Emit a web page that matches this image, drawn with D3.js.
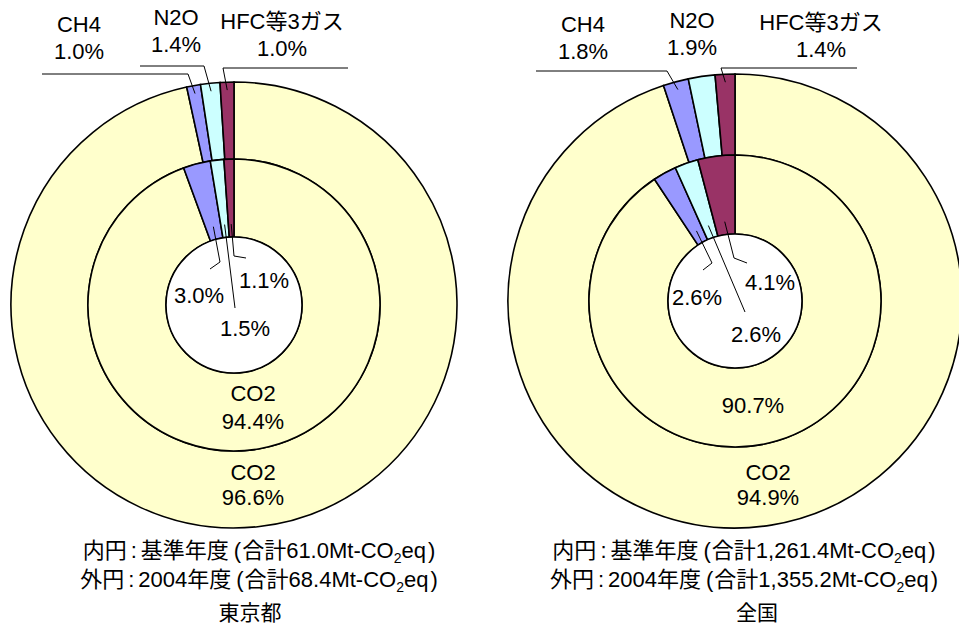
<!DOCTYPE html>
<html>
<head>
<meta charset="utf-8">
<script src="https://cdn.jsdelivr.net/npm/d3@7"></script>
<style>
  body { margin: 0; background: #fff; }
  text { font-family: "Liberation Sans", Arial, "Noto Sans CJK JP", sans-serif; fill: #000; }
</style>
</head>
<body>
<svg id="chart" width="959" height="630"></svg>
<script>
// Greenhouse gas emission shares (%), drawn clockwise from 12 o'clock
const gases = ["CO2", "CH4", "N2O", "HFC等3ガス"];
const gasColors = ["#FFFFCC", "#9999FF", "#CCFFFF", "#993366"];

const tokyoBase = [94.4, 3.0, 1.5, 1.1];   // inner ring: base year
const tokyo2004 = [96.6, 1.0, 1.4, 1.0];   // outer ring: FY2004
const japanBase = [90.7, 2.6, 2.6, 4.1];
const japan2004 = [94.9, 1.8, 1.9, 1.4];

const regionNames = ["東京都", "全国"];
const baseTotals = ["61.0", "1,261.4"];
const fy2004Totals = ["68.4", "1,355.2"];

const svg = d3.select("#chart");
const fmt = v => d3.format(".1f")(v) + "%";
const LABEL_SIZE = 22;

const pie = d3.pie().sort(null).value(d => d);
const polar = (a, r) => [Math.sin(a) * r, -Math.cos(a) * r];
const mid = d => (d.startAngle + d.endAngle) / 2;

// Per-panel layout
const panels = [
  {
    name: regionNames[0], inner: tokyoBase, outer: tokyo2004,
    base: baseTotals[0], fy: fy2004Totals[0],
    cx: 234, cy: 305, rHole: 68, rMid: 146, rOut: 223,
    // outer-ring minor-gas labels and their elbow leaders
    outerLabels: {
      1: { x: 79, y: 32, tail: 42, ly: 74, ex: 188 },
      2: { x: 176, y: 25, tail: 140, ly: 66, ex: 204 },
      3: { x: 282, y: 29, tail: 348, ly: 68, ex: 223 }
    },
    // inner-ring minor-gas labels inside the hole
    innerLabels: {
      1: { x: 199, y: 303, elbow: [220, 262], end: [210, 269] },
      2: { x: 245, y: 336, elbow: null, end: [235, 308] },
      3: { x: 264, y: 288, elbow: [234, 256], end: [246, 258] }
    },
    midLabel: { x: 253, y: 401, showName: true },
    outLabel: { x: 253, y: 480 },
    footX: 259, titleX: 250
  },
  {
    name: regionNames[1], inner: japanBase, outer: japan2004,
    base: baseTotals[1], fy: fy2004Totals[1],
    cx: 735, cy: 301, rHole: 67, rMid: 146, rOut: 227,
    outerLabels: {
      1: { x: 583, y: 32, tail: 536, ly: 71, ex: 667 },
      2: { x: 692, y: 28, tail: null },
      3: { x: 821, y: 30, tail: 857, ly: 68, ex: 721 }
    },
    innerLabels: {
      1: { x: 697, y: 305, elbow: [712, 263], end: [703, 270] },
      2: { x: 756, y: 342, elbow: null, end: [745, 312] },
      3: { x: 770, y: 290, elbow: [734, 258], end: [747, 263] }
    },
    midLabel: { x: 753, y: 413, showName: false },
    outLabel: { x: 768, y: 480 },
    footX: 744, titleX: 757
  }
];

const line = d3.line();

panels.forEach(p => {
  const g = svg.append("g").attr("transform", `translate(${p.cx},${p.cy})`);
  const outerArc = d3.arc().innerRadius(p.rMid).outerRadius(p.rOut);
  const innerArc = d3.arc().innerRadius(p.rHole).outerRadius(p.rMid);
  const outerPie = pie(p.outer);
  const innerPie = pie(p.inner);

  g.selectAll("path.outer").data(outerPie).join("path")
    .attr("class", "outer")
    .attr("d", outerArc)
    .attr("fill", (d, i) => gasColors[i])
    .attr("stroke", "#000").attr("stroke-width", 1.6);

  g.selectAll("path.inner").data(innerPie).join("path")
    .attr("class", "inner")
    .attr("d", innerArc)
    .attr("fill", (d, i) => gasColors[i])
    .attr("stroke", "#000").attr("stroke-width", 1.6);

  g.append("circle").attr("r", p.rHole)
    .attr("fill", "#fff").attr("stroke", "#000").attr("stroke-width", 1.6);

  // Outer-ring labels for minor gases
  outerPie.forEach((d, i) => {
    const L = p.outerLabels[i];
    if (!L) return;
    const t = svg.append("text").attr("text-anchor", "middle").attr("font-size", LABEL_SIZE);
    t.append("tspan").attr("x", L.x).attr("y", L.y).text(gases[i]);
    t.append("tspan").attr("x", L.x).attr("y", L.y + 27).text(fmt(d.data));
    if (L.tail !== null) {
      const [sx, sy] = polar(mid(d), p.rOut - 8);
      svg.append("path")
        .attr("d", line([[L.tail, L.ly], [L.ex, L.ly], [p.cx + sx, p.cy + sy]]))
        .attr("fill", "none").attr("stroke", "#000").attr("stroke-width", 1);
    }
  });

  // Inner-ring labels for minor gases
  innerPie.forEach((d, i) => {
    const L = p.innerLabels[i];
    if (!L) return;
    const [sx, sy] = polar(mid(d), p.rHole + 13);
    const pts = [[p.cx + sx, p.cy + sy]];
    if (L.elbow) pts.push(L.elbow);
    pts.push(L.end);
    svg.append("path").attr("d", line(pts))
      .attr("fill", "none").attr("stroke", "#000").attr("stroke-width", 1);
    svg.append("text").attr("text-anchor", "middle").attr("font-size", LABEL_SIZE)
      .attr("x", L.x).attr("y", L.y).text(fmt(d.data));
  });

  // CO2 labels
  const m = p.midLabel;
  const mt = svg.append("text").attr("text-anchor", "middle").attr("font-size", LABEL_SIZE);
  if (m.showName) {
    mt.append("tspan").attr("x", m.x).attr("y", m.y).text(gases[0]);
    mt.append("tspan").attr("x", m.x).attr("y", m.y + 28).text(fmt(innerPie[0].data));
  } else {
    mt.append("tspan").attr("x", m.x).attr("y", m.y).text(fmt(innerPie[0].data));
  }
  const o = p.outLabel;
  const ot = svg.append("text").attr("text-anchor", "middle").attr("font-size", LABEL_SIZE);
  ot.append("tspan").attr("x", o.x).attr("y", o.y).text(gases[0]);
  ot.append("tspan").attr("x", o.x).attr("y", o.y + 25).text(fmt(outerPie[0].data));

  // Footnotes: inner / outer ring totals
  const foot = (y, ring, period, total) => {
    const t = svg.append("text").attr("text-anchor", "middle").attr("font-size", 22)
      .attr("x", p.footX).attr("y", y);
    t.append("tspan").text(ring);
    t.append("tspan").attr("dx", 4).text(":");
    t.append("tspan").attr("dx", 4).text(period);
    t.append("tspan").attr("dx", 5).text("(");
    t.append("tspan").attr("dx", 1).text("合計" + total + "Mt-CO");
    t.append("tspan").attr("font-size", 14).attr("dy", 5).text("2");
    t.append("tspan").attr("dy", -5).text("eq");
    t.append("tspan").attr("dx", 2).text(")");
  };
  foot(558, "内円", "基準年度", p.base);
  foot(587, "外円", "2004年度", p.fy);
  svg.append("text").attr("text-anchor", "middle").attr("font-size", 21)
    .attr("x", p.titleX).attr("y", 620).text(p.name);
});
</script>
</body>
</html>
